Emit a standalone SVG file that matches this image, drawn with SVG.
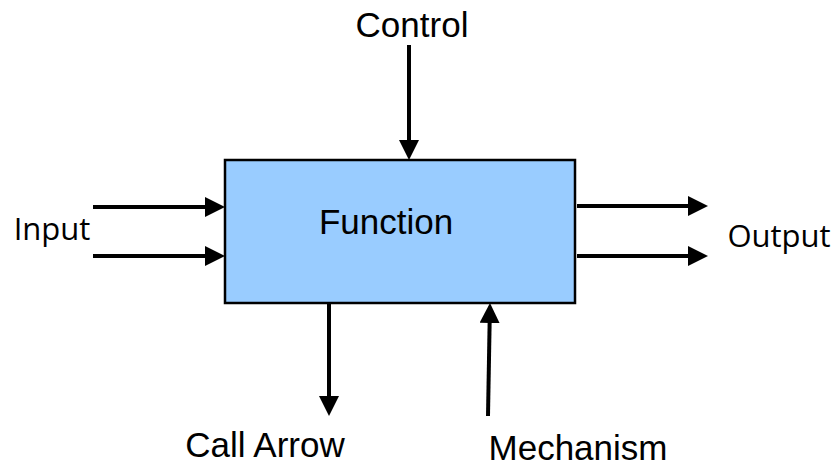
<svg xmlns="http://www.w3.org/2000/svg" width="838" height="466" viewBox="0 0 838 466">
<defs>
<style>
.lbl{font-family:"Liberation Sans",Arial,sans-serif;font-size:35px;fill:#000}
.lbl2{font-family:"Open Sans","Noto Sans",sans-serif;font-size:31px;fill:#000}
.ln{stroke:#000;stroke-width:4;fill:none}
.box{fill:#99ccff;stroke:#000;stroke-width:2.5}
</style>
<marker id="ah" markerUnits="userSpaceOnUse" markerWidth="20" markerHeight="20" viewBox="0 0 20 20" refX="10" refY="10" orient="auto">
<path d="M0,0 L20,10 L0,20 Z" fill="#000"/>
</marker>
</defs>
<rect width="838" height="466" fill="#fff"/>
<g id="function">
<rect class="box" x="225" y="160" width="350" height="143"/>
<text class="lbl" x="386" y="234" text-anchor="middle">Function</text>
</g>
<g id="control"><text class="lbl" x="412" y="37" text-anchor="middle">Control</text></g>
<g id="input"><text class="lbl2" x="52" y="240" text-anchor="middle">Input</text></g>
<g id="output"><text class="lbl2" x="779" y="247" text-anchor="middle">Output</text></g>
<g id="callarrow"><text class="lbl" x="265" y="457" text-anchor="middle">Call Arrow</text></g>
<g id="mechanism"><text class="lbl" x="578" y="460" text-anchor="middle">Mechanism</text></g>
<g id="connectors">
<line class="ln" x1="409" y1="45" x2="409" y2="150" marker-end="url(#ah)"/>
<line class="ln" x1="93" y1="207" x2="215" y2="207" marker-end="url(#ah)"/>
<line class="ln" x1="93" y1="256" x2="215" y2="256" marker-end="url(#ah)"/>
<line class="ln" x1="577" y1="206" x2="698" y2="206" marker-end="url(#ah)"/>
<line class="ln" x1="577" y1="256" x2="698" y2="256" marker-end="url(#ah)"/>
<line class="ln" x1="329" y1="303" x2="329" y2="406" marker-end="url(#ah)"/>
<line class="ln" x1="488" y1="416" x2="489.8" y2="313" marker-end="url(#ah)"/>
</g>
</svg>
